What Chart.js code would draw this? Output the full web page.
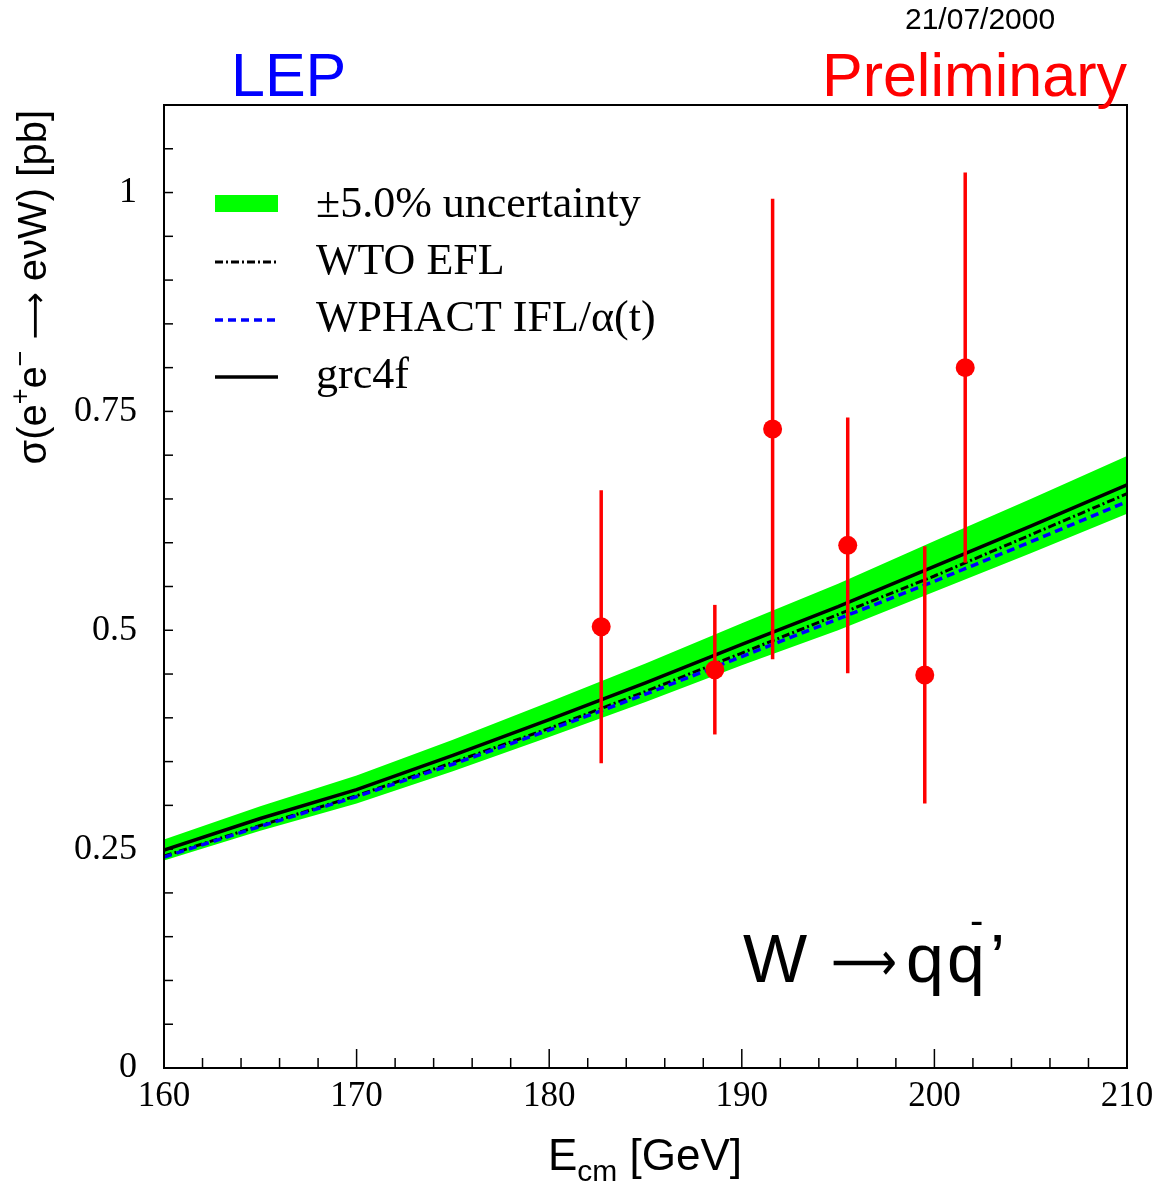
<!DOCTYPE html>
<html>
<head>
<meta charset="utf-8">
<script src="https://cdn.jsdelivr.net/npm/chart.js@4/dist/chart.umd.min.js"></script>
<style>
  html, body { margin: 0; padding: 0; background: #ffffff; }
  #wrap { position: relative; width: 1160px; height: 1182px; }
</style>
</head>
<body>
<div id="wrap"><canvas id="c" width="1160" height="1182"></canvas></div>
<script>
// ---------------- data ----------------
const energies   = [160, 165, 170, 175, 180, 185, 190, 195, 200, 205, 210];
const grc4f      = [0.249, 0.285, 0.318, 0.357, 0.398, 0.440, 0.484, 0.527, 0.573, 0.619, 0.666];
const wtoEfl     = [0.242, 0.277, 0.311, 0.349, 0.388, 0.430, 0.474, 0.518, 0.562, 0.609, 0.656];
const wphact     = [0.241, 0.276, 0.310, 0.347, 0.386, 0.427, 0.470, 0.513, 0.556, 0.601, 0.647];
const bandUpper  = [0.261, 0.299, 0.334, 0.375, 0.418, 0.462, 0.508, 0.553, 0.602, 0.650, 0.699];
const bandLower  = [0.237, 0.271, 0.302, 0.339, 0.378, 0.418, 0.460, 0.500, 0.544, 0.588, 0.633];

const dataE      = [182.7, 188.6, 191.6, 195.5, 199.5, 201.6];
const dataSigma  = [0.504, 0.455, 0.730, 0.597, 0.449, 0.800];
const dataErr    = [0.156, 0.074, 0.263, 0.146, 0.147, 0.223];

const xMajorTicks  = [160, 170, 180, 190, 200, 210];
const xTickLabels  = ['160', '170', '180', '190', '200', '210'];
const yMajorTicks  = [0, 0.25, 0.5, 0.75, 1];
const yTickLabels  = ['0', '0.25', '0.5', '0.75', '1'];

const legendLabels = ['\u00B15.0% uncertainty', 'WTO EFL', 'WPHACT IFL/\u03B1(t)', 'grc4f'];

// ---------------- helpers ----------------
const SERIF = "'Liberation Serif', 'Times New Roman', serif";
const SANS  = "'Liberation Sans', Arial, Helvetica, sans-serif";
const ARROWFONT = "'DejaVu Sans', sans-serif";
const ARROW = '\u27F6';
const pts = (xs, ys) => xs.map((x, i) => ({ x: x, y: ys[i] }));
const near = (arr, v) => arr.findIndex(a => Math.abs(a - v) < 1e-6);

const styles = {
  wto:    { color: '#000000', width: 3, dash: [8, 3, 2, 3] },
  wphact: { color: '#0000ff', width: 3.5, dash: [8, 5] },
  grc:    { color: '#000000', width: 3.5, dash: [] }
};

function pieceWidth(ctx, p) {
  if (p.w) return p.w;
  ctx.font = p.font;
  return ctx.measureText(p.t).width;
}
function richWidth(ctx, pieces) {
  return pieces.reduce((s, p) => s + pieceWidth(ctx, p), 0);
}
function drawRich(ctx, pieces, x, y) {
  let cx = x;
  pieces.forEach(p => {
    ctx.font = p.font;
    if (p.w) {
      const m = ctx.measureText(p.t);
      ctx.save();
      ctx.translate(cx, y + (p.dy || 0));
      ctx.scale(p.w / m.width, 1);
      ctx.fillText(p.t, 0, 0);
      ctx.restore();
    } else {
      ctx.fillText(p.t, cx, y + (p.dy || 0));
    }
    cx += pieceWidth(ctx, p);
  });
  return cx - x;
}
// draw a glyph horizontally stretched to width w, its ink vertically centred at cy
function drawStretched(ctx, t, font, x, cy, w) {
  ctx.font = font;
  const m = ctx.measureText(t);
  const mid = (m.actualBoundingBoxAscent - m.actualBoundingBoxDescent) / 2;
  ctx.save();
  ctx.translate(x, cy + mid);
  ctx.scale(w / m.width, 1);
  ctx.fillText(t, 0, 0);
  ctx.restore();
}

const decorPlugin = {
  id: 'decor',
  afterDatasetsDraw(chart) {
    const ctx = chart.ctx, xs = chart.scales.x, ys = chart.scales.y;
    ctx.save();
    ctx.strokeStyle = '#ff0000';
    ctx.lineWidth = 3.5;
    dataE.forEach((e, i) => {
      const px = xs.getPixelForValue(e);
      ctx.beginPath();
      ctx.moveTo(px, ys.getPixelForValue(dataSigma[i] + dataErr[i]));
      ctx.lineTo(px, ys.getPixelForValue(dataSigma[i] - dataErr[i]));
      ctx.stroke();
    });
    ctx.restore();
  },
  afterDraw(chart) {
    const ctx = chart.ctx, xs = chart.scales.x, ys = chart.scales.y;
    const a = chart.chartArea;
    ctx.save();
    // frame
    ctx.strokeStyle = '#000000';
    ctx.lineWidth = 2;
    ctx.strokeRect(a.left, a.top, a.right - a.left, a.bottom - a.top);
    // inward tick marks
    ctx.lineWidth = 1.5;
    xs.ticks.forEach(t => {
      const px = xs.getPixelForValue(t.value);
      const len = near(xMajorTicks, t.value) >= 0 ? 19 : 10;
      ctx.beginPath(); ctx.moveTo(px, a.bottom); ctx.lineTo(px, a.bottom - len); ctx.stroke();
    });
    ys.ticks.forEach(t => {
      const py = ys.getPixelForValue(t.value);
      ctx.beginPath(); ctx.moveTo(a.left, py); ctx.lineTo(a.left + 9, py); ctx.stroke();
    });

    // legend
    ctx.fillStyle = '#00ff00';
    ctx.fillRect(215, 195, 63, 17);
    const rows = [262, 320, 377];
    [styles.wto, styles.wphact, styles.grc].forEach((s, i) => {
      ctx.strokeStyle = s.color; ctx.lineWidth = s.width; ctx.setLineDash(s.dash);
      ctx.beginPath(); ctx.moveTo(215, rows[i]); ctx.lineTo(278, rows[i]); ctx.stroke();
    });
    ctx.setLineDash([]);
    ctx.fillStyle = '#000000';
    ctx.font = '44px ' + SERIF;
    ctx.textAlign = 'left'; ctx.textBaseline = 'alphabetic';
    const base = [217, 274, 331, 388];
    legendLabels.forEach((l, i) => ctx.fillText(l, 316, base[i]));

    // header texts
    ctx.font = '61px ' + SANS;
    ctx.fillStyle = '#0000ff';
    ctx.fillText('LEP', 231, 96);
    ctx.fillStyle = '#ff0000';
    ctx.textAlign = 'right';
    ctx.fillText('Preliminary', 1127, 96);
    ctx.fillStyle = '#000000';
    ctx.textAlign = 'left';
    ctx.font = '30px ' + SANS;
    ctx.fillText('21/07/2000', 905, 29);

    // process label W -> q qbar'
    ctx.font = '68px ' + SANS;
    ctx.fillText('W', 743, 982);
    drawStretched(ctx, ARROW, '54px ' + ARROWFONT, 831, 963, 66);
    ctx.font = '68px ' + SANS;
    ctx.fillText('q', 906, 982);
    ctx.fillText('q', 947, 982);
    ctx.fillText('\u2019', 990, 982);
    ctx.font = '40px ' + SANS;
    ctx.fillText('-', 970, 934);

    // x-axis title
    const xt = [
      { t: 'E', font: '44px ' + SANS },
      { t: 'cm', font: '30px ' + SANS, dy: 11 },
      { t: ' [GeV]', font: '44px ' + SANS }
    ];
    const xw = richWidth(ctx, xt);
    drawRich(ctx, xt, 645 - xw / 2, 1170);

    // y-axis title (rotated, aligned to top of axis)
    const yt = [
      { t: '\u03C3(e', font: '40px ' + SANS },
      { t: '+', font: '27px ' + SANS, dy: -17 },
      { t: 'e', font: '40px ' + SANS },
      { t: '\u2212', font: '27px ' + SANS, dy: -17 },
      { t: ' ', font: '40px ' + SANS },
      { t: ARROW, font: '34px ' + ARROWFONT, w: 47, dy: 0 },
      { t: ' e\u03BDW) [pb]', font: '40px ' + SANS }
    ];
    const yw = richWidth(ctx, yt);
    ctx.save();
    ctx.translate(46, 110);
    ctx.rotate(-Math.PI / 2);
    drawRich(ctx, yt, -yw, 0);
    ctx.restore();

    ctx.restore();
  }
};

new Chart(document.getElementById('c'), {
  type: 'scatter',
  data: {
    datasets: [
      { label: 'data', data: pts(dataE, dataSigma), showLine: false,
        pointRadius: 9.5, pointHoverRadius: 9.5, backgroundColor: '#ff0000', borderWidth: 0 },
      { label: legendLabels[3], data: pts(energies, grc4f), showLine: true, pointRadius: 0,
        borderColor: styles.grc.color, borderWidth: styles.grc.width, fill: false },
      { label: legendLabels[2], data: pts(energies, wphact), showLine: true, pointRadius: 0,
        borderColor: styles.wphact.color, borderWidth: styles.wphact.width, borderDash: styles.wphact.dash, fill: false },
      { label: legendLabels[1], data: pts(energies, wtoEfl), showLine: true, pointRadius: 0,
        borderColor: styles.wto.color, borderWidth: styles.wto.width, borderDash: styles.wto.dash, fill: false },
      { label: legendLabels[0], data: pts(energies, bandUpper), showLine: true, pointRadius: 0,
        borderWidth: 0, borderColor: 'rgba(0,0,0,0)', backgroundColor: '#00ff00', fill: 5 },
      { label: 'band-low', data: pts(energies, bandLower), showLine: true, pointRadius: 0,
        borderWidth: 0, borderColor: 'rgba(0,0,0,0)', fill: false }
    ]
  },
  options: {
    responsive: false,
    animation: false,
    devicePixelRatio: 1,
    layout: { padding: { left: 0, top: 105, right: 33, bottom: 0 } },
    plugins: { legend: { display: false }, tooltip: { enabled: false } },
    scales: {
      x: {
        type: 'linear', min: 160, max: 210,
        grid: { display: false }, border: { display: false },
        ticks: {
          stepSize: 2, autoSkip: false, maxRotation: 0, minRotation: 0, padding: 0,
          color: '#000000', font: { family: SERIF, size: 35 },
          callback: v => { const i = near(xMajorTicks, v); return i >= 0 ? xTickLabels[i] : ''; }
        },
        afterFit: s => { s.height = 114; s.paddingLeft = 0; s.paddingRight = 0; }
      },
      y: {
        type: 'linear', min: 0, max: 1.1,
        grid: { display: false }, border: { display: false },
        ticks: {
          stepSize: 0.05, autoSkip: false, padding: 19,
          color: '#000000', font: { family: SERIF, size: 36 },
          callback: v => { const i = near(yMajorTicks, v); return i >= 0 ? yTickLabels[i] : ''; }
        },
        afterFit: s => { s.width = 164; s.paddingTop = 0; s.paddingBottom = 0; }
      }
    }
  },
  plugins: [decorPlugin]
});
</script>
</body>
</html>
